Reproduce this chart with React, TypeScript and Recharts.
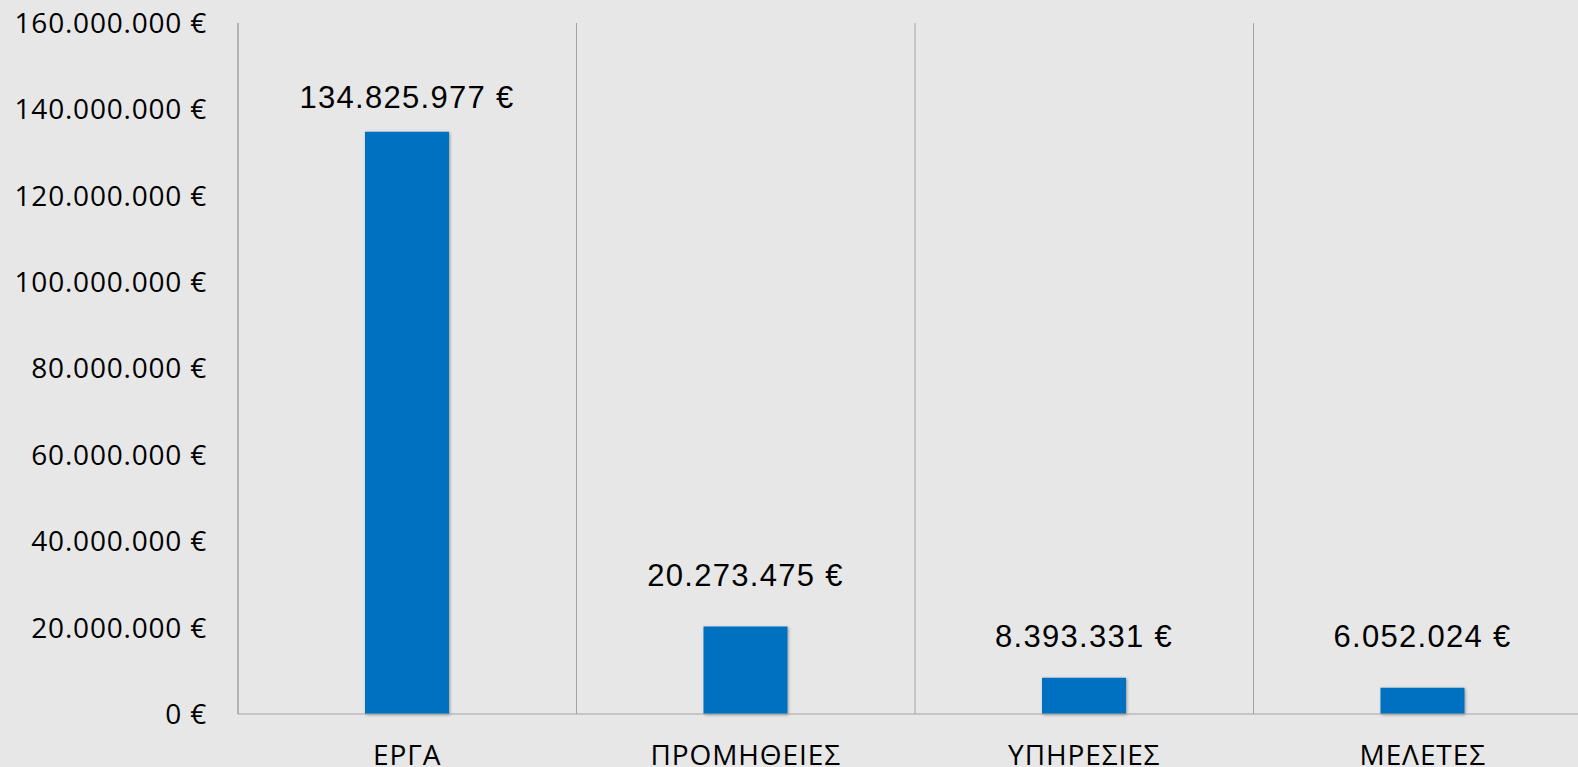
import React from "react";
import { BarChart, Bar, XAxis, YAxis, CartesianGrid } from "recharts";

// κατηγορίες και ποσά (€)
const categories = ["ΕΡΓΑ", "ΠΡΟΜΗΘΕΙΕΣ", "ΥΠΗΡΕΣΙΕΣ", "ΜΕΛΕΤΕΣ"];
const amounts = [134825977, 20273475, 8393331, 6052024];
const yTicks = [0, 20000000, 40000000, 60000000, 80000000, 100000000, 120000000, 140000000, 160000000];

// απόσταση ετικέτας από την κορυφή κάθε στήλης
const labelGaps = [34, 51, 41, 51];

const data = categories.map((name, i) => ({ name, value: amounts[i] }));

const euro = (v: number) => `${String(Math.round(v)).replace(/\B(?=(\d{3})+(?!\d))/g, ".")} €`;

const GRID = "#a3a3a3";

const ValueLabel = (props: any) => {
  const { x, y, width, index, value } = props;
  return (
    <text
      x={x + width / 2}
      y={y - labelGaps[index]}
      textAnchor="middle"
      dominantBaseline="central"
      fontFamily="'Liberation Sans', Arial, sans-serif"
      fontSize={31}
      letterSpacing={1.3}
      fill="#000"
    >
      {euro(value)}
    </text>
  );
};

export default function App() {
  return (
    <div
      style={{
        position: "fixed",
        inset: 0,
        background: "#e7e7e7",
        overflow: "hidden",
      }}
    >
      <BarChart
        width={1592}
        height={767}
        data={data}
        margin={{ top: 23, right: 0, left: 0, bottom: 0 }}
        barCategoryGap={0}
      >
        <defs>
          <filter id="barShadow" x="-10%" y="-10%" width="130%" height="130%">
            <feDropShadow dx="1" dy="1" stdDeviation="1.5" floodColor="#000" floodOpacity="0.35" />
          </filter>
        </defs>
        <CartesianGrid
          horizontal={false}
          stroke={GRID}
          strokeWidth={1}
          verticalCoordinatesGenerator={({ offset }: any) =>
            categories.map((_, i) => offset.left + (i * offset.width) / categories.length)
          }
        />
        <XAxis
          dataKey="name"
          axisLine={{ stroke: GRID }}
          tickLine={false}
          tickSize={0}
          tickMargin={31}
          height={53}
          interval={0}
          tick={{ fill: "#000", fontSize: 28, fontFamily: "'Open Sans', sans-serif", letterSpacing: 0.9 }}
        />
        <YAxis
          width={238}
          domain={[0, 160000000]}
          ticks={yTicks}
          tickFormatter={euro}
          axisLine={{ stroke: GRID }}
          tickLine={false}
          tickSize={0}
          tickMargin={31}
          tick={{ fill: "#000", fontSize: 28, fontFamily: "'Open Sans', sans-serif", letterSpacing: 0.8 }}
        />
        <Bar
          dataKey="value"
          fill="#0070c0"
          barSize={84}
          isAnimationActive={false}
          filter="url(#barShadow)"
          label={<ValueLabel />}
        />
      </BarChart>
    </div>
  );
}
